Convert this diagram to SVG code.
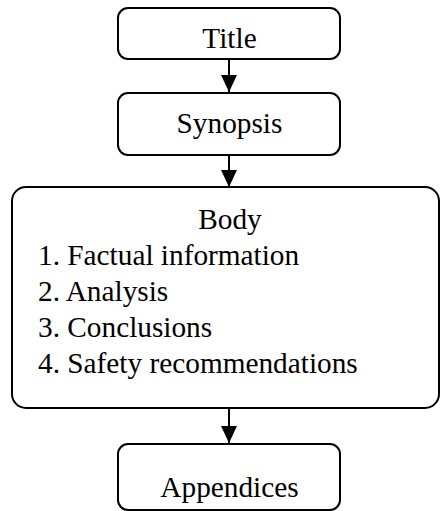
<svg xmlns="http://www.w3.org/2000/svg" width="440" height="511" viewBox="0 0 440 511">
<style>
.box{fill:#fff;stroke:#000;stroke-width:2}
.t{font-family:"Liberation Serif",serif;font-size:29.3px;fill:#000}
.c{text-anchor:middle}
.ln{stroke:#000;stroke-width:2;fill:none}
</style>
<defs>
<marker id="ah" markerUnits="userSpaceOnUse" markerWidth="17" markerHeight="17" refX="17" refY="8" orient="auto">
<path d="M0,0 L17,8 L0,16 Z" fill="#000"/>
</marker>
</defs>
<rect width="440" height="511" fill="#fff"/>
<g id="connectors">
<line class="ln" x1="229" y1="59" x2="229" y2="92" marker-end="url(#ah)"/>
<line class="ln" x1="229" y1="155" x2="229" y2="187" marker-end="url(#ah)"/>
<line class="ln" x1="229" y1="408" x2="229" y2="443" marker-end="url(#ah)"/>
</g>
<g id="title">
<rect class="box" x="118" y="8" width="222" height="51" rx="10"/>
<text class="t c" x="229.5" y="48">Title</text>
</g>
<g id="synopsis">
<rect class="box" x="118" y="93" width="222" height="62" rx="10"/>
<text class="t c" x="229.5" y="133">Synopsis</text>
</g>
<g id="body">
<rect class="box" x="12" y="187" width="427" height="221" rx="14"/>
<text class="t c" x="230" y="229">Body</text>
<text class="t" x="38" y="265">1. Factual information</text>
<text class="t" x="38" y="301">2. Analysis</text>
<text class="t" x="38" y="337">3. Conclusions</text>
<text class="t" x="38" y="373">4. Safety recommendations</text>
</g>
<g id="appendices">
<rect class="box" x="118" y="444" width="222" height="66" rx="10"/>
<text class="t c" x="229.5" y="497">Appendices</text>
</g>
</svg>
